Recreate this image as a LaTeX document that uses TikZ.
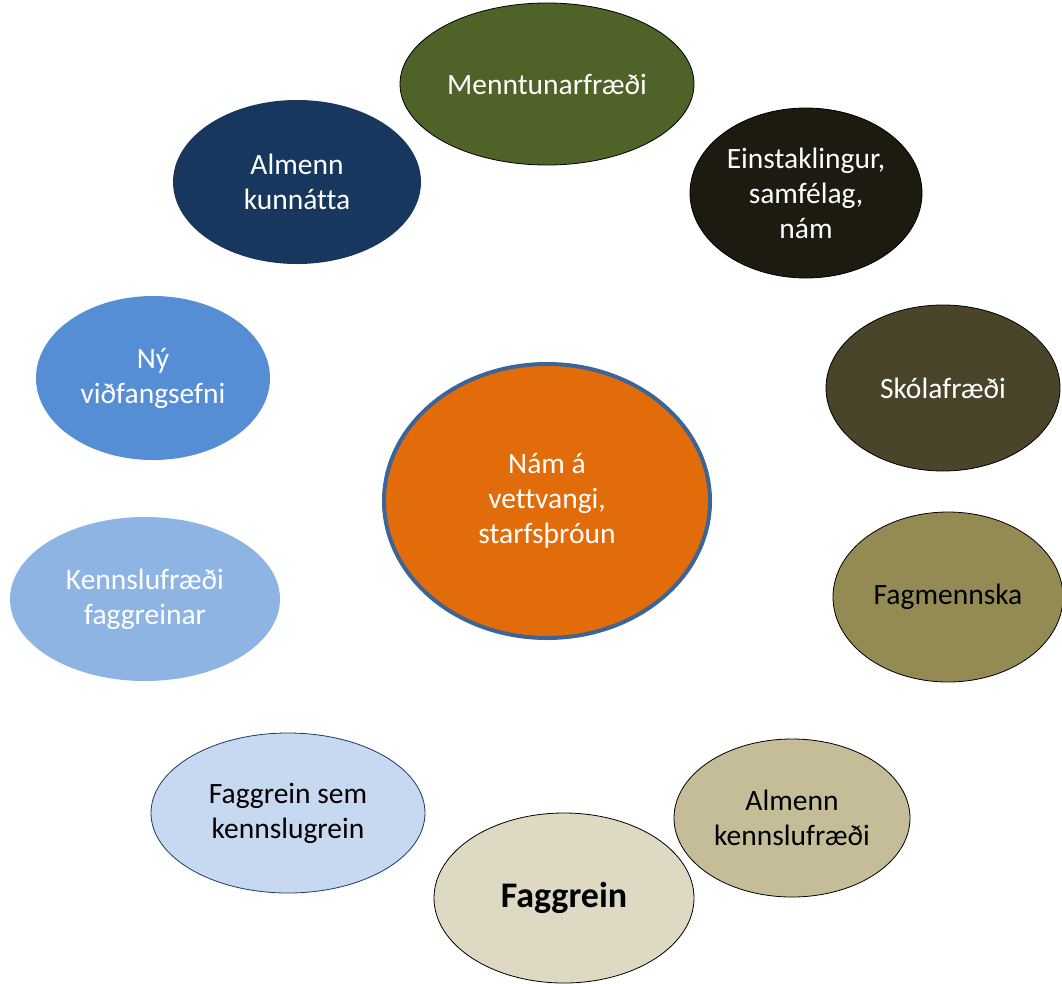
\documentclass[tikz,border=0pt]{standalone}
\usepackage{fontspec}
\setmainfont{Carlito}[Ligatures=NoCommon]
\usetikzlibrary{shapes.geometric}
\definecolor{cOlive}{HTML}{4F6228}
\definecolor{cNavy}{HTML}{17375E}
\definecolor{cBlack}{HTML}{1D1B10}
\definecolor{cMid}{HTML}{558ED5}
\definecolor{cBrown}{HTML}{4A452A}
\definecolor{cOrange}{HTML}{E36C0A}
\definecolor{cRing}{HTML}{3C6496}
\definecolor{cLight}{HTML}{8EB4E3}
\definecolor{cKhaki}{HTML}{948A54}
\definecolor{cSand}{HTML}{C4BD97}
\definecolor{cPale}{HTML}{C6D9F1}
\definecolor{cPaleLine}{HTML}{1F3864}
\definecolor{cCream}{HTML}{DDD9C3}
\tikzset{
  blob/.style={ellipse, inner sep=0pt, outer sep=0pt, align=center,
    font=\fontsize{29.5}{35}\selectfont},
  lighttext/.style={text=white},
  darktext/.style={text=black},
}
\begin{document}
\begin{tikzpicture}[x=1pt,y=-1pt]
\useasboundingbox (0,0) rectangle (1062,983);
\node[blob, fill=cOlive, draw=black, line width=0.8pt, lighttext, minimum width=294pt, minimum height=162pt] (menn) at (547,84) {Menntunarfræði};
\node[blob, fill=cNavy, lighttext, minimum width=248pt, minimum height=164pt] (alm) at (297,182) {Almenn\\kunnátta};
\node[blob, fill=cBlack, draw=black, line width=0.8pt, lighttext, minimum width=232pt, minimum height=170pt] (ein) at (806,193) {Einstaklingur,\\samfélag,\\nám};
\node[blob, fill=cMid, lighttext, minimum width=234pt, minimum height=164pt] (ny) at (153,378) {Ný\\viðfangsefni};
\node[blob, fill=cBrown, draw=black, line width=0.8pt, lighttext, minimum width=234pt, minimum height=166pt] (sko) at (943,388) {Skólafræði};
\node[blob, fill=cOrange, draw=cRing, line width=4pt, lighttext, minimum width=326pt, minimum height=274pt] (mid) at (547,501) {Nám á\\vettvangi,\\starfsþróun};
\node[blob, fill=cLight, lighttext, minimum width=270pt, minimum height=164pt] (kenn) at (145,599) {Kennslufræði\\faggreinar};
\node[blob, fill=cKhaki, draw=black, line width=0.8pt, darktext, minimum width=230pt, minimum height=170pt] (fag) at (948,597) {Fagmennska};
\node[blob, fill=cSand, draw=black, line width=0.8pt, darktext, minimum width=236pt, minimum height=158pt] (almk) at (792,818) {Almenn\\kennslufræði};
\node[blob, fill=cPale, draw=cPaleLine, line width=0.8pt, darktext, minimum width=274pt, minimum height=160pt] (fsk) at (288,813) {Faggrein sem\\kennslugrein};
\node[blob, fill=cCream, draw=black, line width=0.8pt, darktext, minimum width=260pt, minimum height=170pt, font=\fontsize{36}{42}\selectfont\bfseries] (fg) at (564,898) {Faggrein};
\end{tikzpicture}
\end{document}
